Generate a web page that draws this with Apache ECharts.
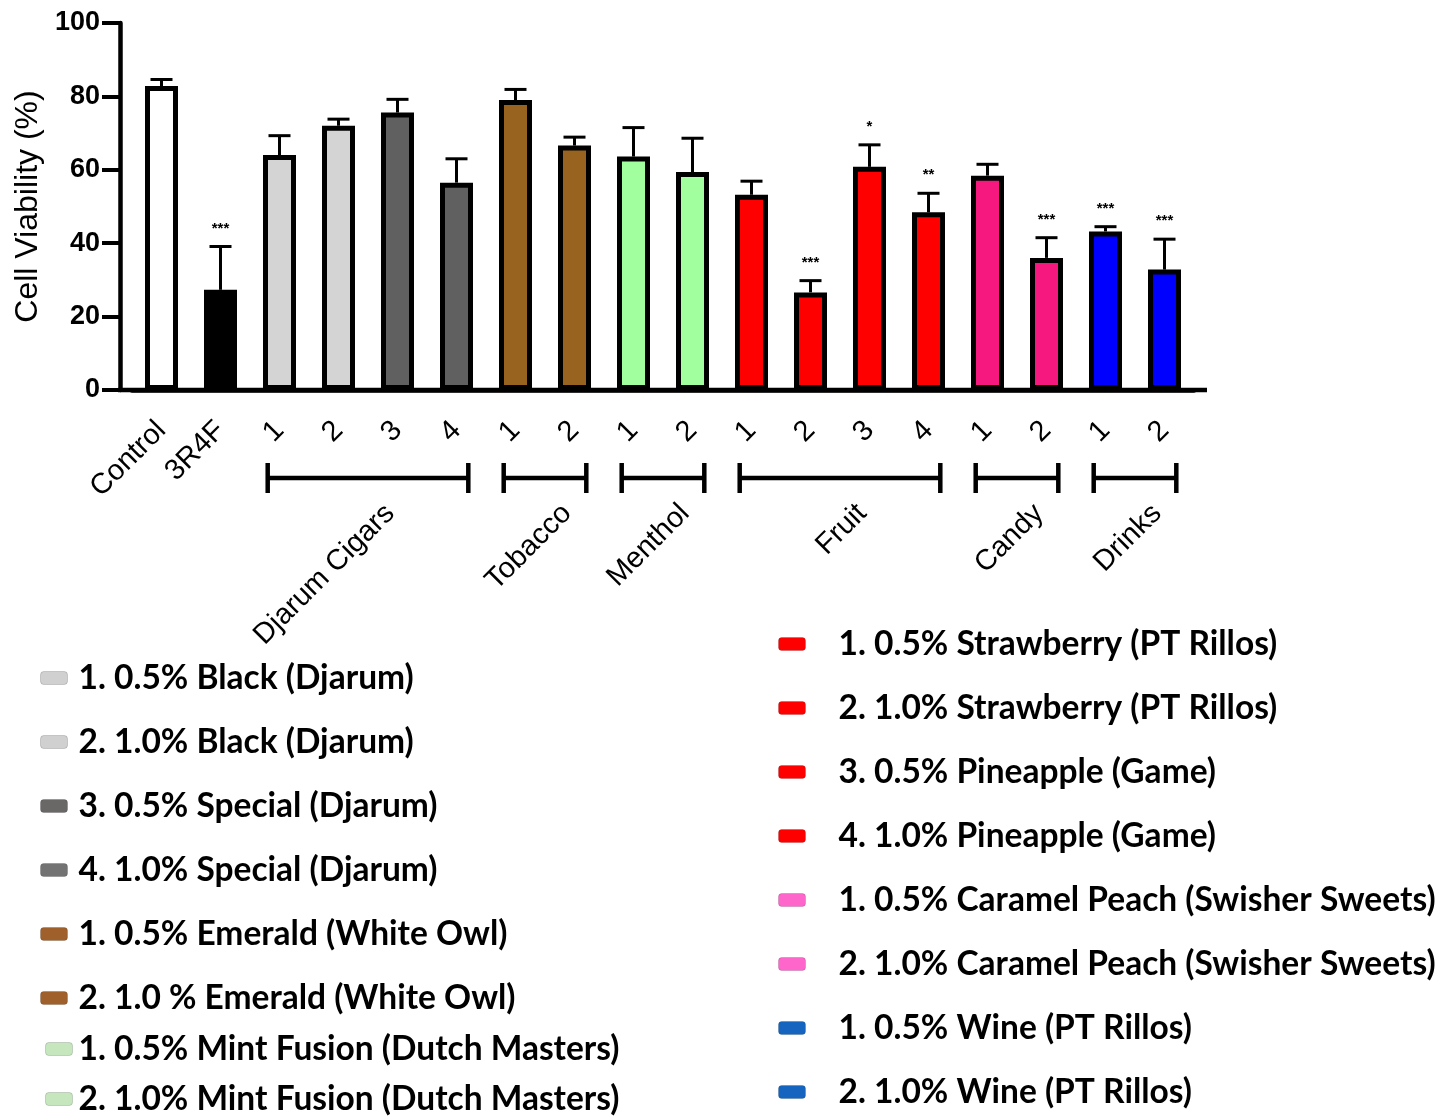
<!DOCTYPE html>
<html><head><meta charset="utf-8">
<script src="https://cdn.jsdelivr.net/npm/echarts@6/dist/echarts.min.js"></script>
<style>html,body{margin:0;padding:0;background:#fff}#c{width:1439px;height:1116px}</style>
</head><body><div id="c"></div>
<script>
// ---------- data ----------
const categories = ['Control','3R4F','1','2','3','4','1','2','1','2','1','2','3','4','1','2','1','2'];
const values = [82.8, 27.3, 64, 72, 75.6, 56.5, 79, 66.6, 63.6, 59.4, 53.2, 26.6, 60.8, 48.4, 58.4, 36, 43.2, 32.8];
const errors = [1.8, 11.8, 5.3, 1.8, 3.6, 6.5, 2.9, 2.3, 7.9, 9.2, 3.7, 3.2, 6.0, 5.2, 3.1, 5.5, 1.3, 8.3];
const significance = ['','***','','','','','','','','','','***','*','**','','***','***','***'];
const barColors = ['#ffffff','#000000','#d4d4d4','#d4d4d4','#606060','#606060','#98621f','#98621f',
  '#a2ff9e','#a2ff9e','#ff0000','#ff0000','#ff0000','#ff0000','#f7187f','#f7187f','#0000ff','#0000ff'];
const yTicks = [0, 20, 40, 60, 80, 100];
const groupNames = ['Djarum Cigars','Tobacco','Menthol','Fruit','Candy','Drinks'];
const groupStart = [2, 6, 8, 10, 14, 16];
const groupEnd = [5, 7, 9, 13, 15, 17];
const legendLeftNames = ['1. 0.5% Black (Djarum)','2. 1.0% Black (Djarum)','3. 0.5% Special (Djarum)',
  '4. 1.0% Special (Djarum)','1. 0.5% Emerald (White Owl)','2. 1.0 % Emerald (White Owl)',
  '1. 0.5% Mint Fusion (Dutch Masters)','2. 1.0% Mint Fusion (Dutch Masters)'];
const legendLeftColors = ['#d0d0d0','#d0d0d0','#6a6767','#737373','#a0602c','#a0602c','#c6e6be','#c6e6be'];
const legendRightNames = ['1. 0.5% Strawberry (PT Rillos)','2. 1.0% Strawberry (PT Rillos)',
  '3. 0.5% Pineapple (Game)','4. 1.0% Pineapple (Game)','1. 0.5% Caramel Peach (Swisher Sweets)',
  '2. 1.0% Caramel Peach (Swisher Sweets)','1. 0.5% Wine (PT Rillos)','2. 1.0% Wine (PT Rillos)'];
const legendRightColors = ['#ff0000','#ff0000','#ff0000','#ff0000','#ff66cc','#ff66cc','#1565c0','#1565c0'];

// ---------- chart ----------
const chart = echarts.init(document.getElementById('c'), null, {renderer: 'canvas'});
const AX = 'Liberation Sans, Arial, sans-serif';
const LEGFONT = {fontFamily: 'Lato', fontWeight: 'bold', fontSize: 33.5, lineHeight: 34, color: '#000'};

const legendSeries = legendLeftNames.map((n, i) => ({
  type: 'scatter', name: n, data: [], itemStyle: {color: legendLeftColors[i], opacity: 1}
})).concat(legendRightNames.map((n, i) => ({
  type: 'scatter', name: n, data: [], itemStyle: {color: legendRightColors[i], opacity: 1}
})));

function legendData(names, colors, from, to) {
  return names.slice(from, to).map((n, i) => ({
    name: n, icon: 'roundRect',
    itemStyle: {color: colors[from + i], opacity: 1, borderColor: 'rgba(0,0,0,0.15)', borderWidth: 1}
  }));
}

const option = {
  backgroundColor: '#fff',
  animation: false,
  textStyle: {fontFamily: AX},
  grid: {left: 132, right: 245, top: 23, bottom: 726, containLabel: false},
  xAxis: {
    type: 'category', data: categories,
    axisLine: {lineStyle: {color: '#000', width: 4.5}},
    axisTick: {alignWithLabel: true, length: 15, lineStyle: {color: '#000', width: 4}},
    axisLabel: {rotate: 45, margin: 36, verticalAlign: 'middle', interval: 0,
      fontSize: 29, color: '#000', fontFamily: AX}
  },
  yAxis: {
    type: 'value', min: 0, max: 100, interval: 20, offset: 12,
    name: 'Cell Viability (%)', nameLocation: 'middle', nameRotate: 90, nameGap: 76,
    nameTextStyle: {fontSize: 32, color: '#000', fontFamily: AX},
    axisLine: {show: true, lineStyle: {color: '#000', width: 4.5}},
    axisTick: {show: true, length: 18, lineStyle: {color: '#000', width: 4}},
    axisLabel: {margin: 20, fontSize: 27, fontWeight: 'bold', color: '#000', fontFamily: AX},
    splitLine: {show: false}
  },
  legend: [
    {left: 40, top: 661, orient: 'vertical', padding: 0, itemGap: 30, itemWidth: 27, itemHeight: 13,
      selectedMode: false, textStyle: Object.assign({padding: [0, 0, 0, 6]}, LEGFONT),
      data: legendData(legendLeftNames, legendLeftColors, 0, 6)},
    {left: 45, top: 1032, orient: 'vertical', padding: 0, itemGap: 16, itemWidth: 27, itemHeight: 13,
      selectedMode: false, textStyle: Object.assign({padding: [0, 0, 0, 1]}, LEGFONT),
      data: legendData(legendLeftNames, legendLeftColors, 6, 8)},
    {left: 778, top: 627, orient: 'vertical', padding: 0, itemGap: 30, itemWidth: 27, itemHeight: 13,
      selectedMode: false, textStyle: Object.assign({padding: [0, 0, 0, 28]}, LEGFONT),
      data: legendData(legendRightNames, legendRightColors, 0, 8)}
  ],
  series: [
    {
      type: 'bar', name: 'viability', barWidth: 33,
      data: values.map((v, i) => ({value: v, itemStyle: {color: barColors[i]}})),
      itemStyle: {borderColor: '#000', borderWidth: 5},
      z: 2
    },
    {
      type: 'custom', name: 'sem', z: 3,
      data: values.map((v, i) => [i, v, errors[i]]),
      renderItem: function (params, api) {
        const i = api.value(0), v = api.value(1), e = api.value(2);
        const top = api.coord([i, v]);
        const cap = api.coord([i, v + e]);
        const ch = [
          {type: 'line', shape: {x1: top[0], y1: top[1], x2: cap[0], y2: cap[1]}, style: {stroke: '#000', lineWidth: 3}},
          {type: 'line', shape: {x1: cap[0] - 11, y1: cap[1], x2: cap[0] + 11, y2: cap[1]}, style: {stroke: '#000', lineWidth: 3}}
        ];
        const s = significance[params.dataIndex];
        if (s) ch.push({type: 'text', style: {text: s, x: cap[0], y: cap[1] - 18, align: 'center',
          verticalAlign: 'middle', font: 'bold 15px ' + AX, fill: '#000'}});
        return {type: 'group', children: ch};
      }
    },
    {
      type: 'custom', name: 'groups', z: 3, clip: false,
      data: groupStart.map((s, k) => [s, 0, groupEnd[k]]),
      renderItem: function (params, api) {
        const s = api.value(0), e = api.value(2);
        const band = api.size([1, 0])[0];
        const p0 = api.coord([s, 0]);
        const p1 = api.coord([e, 0]);
        const x0 = p0[0] - band * 0.2, x1 = p1[0] + band * 0.2;
        const y = p0[1] + 88;
        const ls = {stroke: '#000', lineWidth: 4.5};
        const cx = (p0[0] + p1[0]) / 2;
        return {type: 'group', children: [
          {type: 'line', shape: {x1: x0, y1: y, x2: x1, y2: y}, style: ls},
          {type: 'line', shape: {x1: x0, y1: y - 15, x2: x0, y2: y + 15}, style: ls},
          {type: 'line', shape: {x1: x1, y1: y - 15, x2: x1, y2: y + 15}, style: ls},
          {type: 'text', x: cx + 22, y: y + 31, rotation: Math.PI / 4,
            style: {text: groupNames[params.dataIndex], x: 0, y: 0, align: 'right', verticalAlign: 'middle',
              font: '29px ' + AX, fill: '#000'}}
        ]};
      }
    }
  ].concat(legendSeries)
};
chart.setOption(option);

// extend the x axis line to the y axis and slightly past the last bar
const a = chart.convertToPixel({gridIndex: 0}, [0, 0]);
const b = chart.convertToPixel({gridIndex: 0}, [categories.length - 1, 0]);
const bandW = (b[0] - a[0]) / (categories.length - 1);
chart.setOption({graphic: [{
  type: 'line', z: 10,
  shape: {x1: a[0] - bandW / 2 - 14, y1: a[1], x2: b[0] + bandW / 2 + 13, y2: a[1]},
  style: {stroke: '#000', lineWidth: 4.5}
}]});
</script></body></html>
